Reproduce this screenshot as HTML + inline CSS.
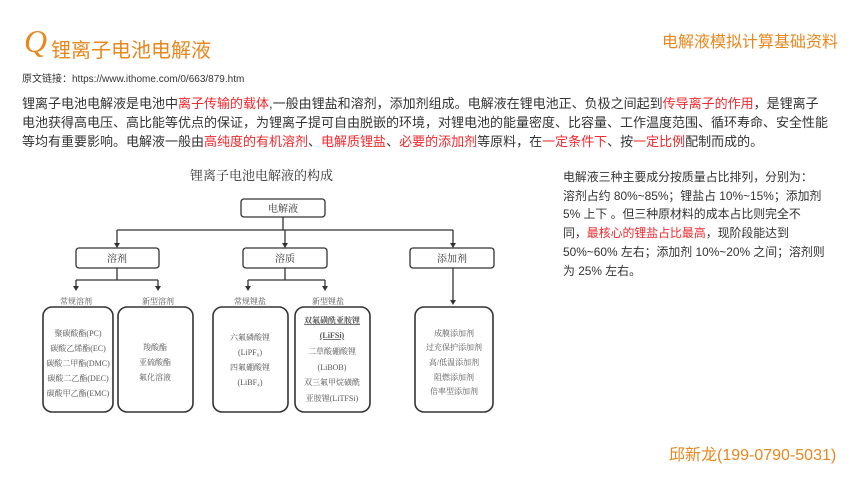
<!DOCTYPE html>
<html><head><meta charset="utf-8"><style>
body{margin:0;width:860px;height:484px;background:#fff;position:relative;overflow:hidden;font-family:"Liberation Sans","Noto Sans CJK SC",sans-serif;}
.a{position:absolute;white-space:nowrap;}
.r{color:#f0282d;}
.body{left:22px;top:94px;font-size:13px;line-height:19px;color:#333;}
.side{left:563px;top:168px;font-size:11.9px;line-height:18.7px;color:#333;}
</style></head><body>
<div class="a" style="left:24px;top:24px;font-family:'Liberation Serif',serif;font-style:italic;font-size:32px;color:#e8871e;line-height:34px;">Q</div>
<div class="a" style="left:51px;top:34px;font-size:20px;color:#e8871e;">锂离子电池电解液</div>
<div class="a" style="left:662px;top:28px;font-size:16px;color:#e8871e;">电解液模拟计算基础资料</div>
<div class="a" style="left:22px;top:70px;font-size:10px;color:#333;">原文链接：https://www.ithome.com/0/663/879.htm</div>
<div class="a body">锂离子电池电解液是电池中<span class="r">离子传输的载体</span>,一般由锂盐和溶剂，添加剂组成。电解液在锂电池正、负极之间起到<span class="r">传导离子的作用</span>，是锂离子<br>电池获得高电压、高比能等优点的保证，为锂离子提可自由脱嵌的环境，对锂电池的能量密度、比容量、工作温度范围、循环寿命、安全性能<br>等均有重要影响。电解液一般由<span class="r">高纯度的有机溶剂</span>、<span class="r">电解质锂盐</span>、<span class="r">必要的添加剂</span>等原料，在<span class="r">一定条件下</span>、按<span class="r">一定比例</span>配制而成的。</div>
<div class="a side">电解液三种主要成分按质量占比排列，分别为：<br>溶剂占约 80%~85%；锂盐占 10%~15%；添加剂<br>5% 上下 。但三种原材料的成本占比则完全不<br>同，<span class="r">最核心的锂盐占比最高</span>，现阶段能达到<br>50%~60% 左右；添加剂 10%~20% 之间；溶剂则<br>为 25% 左右。</div>
<div class="a" style="left:669px;top:441px;font-size:16px;color:#e8871e;">邱新龙(199-0790-5031)</div>
<svg class="a" style="left:0;top:0" width="860" height="484" font-family="Liberation Serif,Noto Serif CJK SC,serif" fill="#333">
<text x="190" y="180" font-size="13">锂离子电池电解液的构成</text>
<g fill="none" stroke="#333" stroke-width="1.3">
<rect x="241" y="199" width="84" height="18" rx="3"/>
<rect x="76" y="248" width="83" height="20" rx="3"/>
<rect x="243" y="248" width="84" height="20" rx="3"/>
<rect x="410" y="248" width="84" height="20" rx="3"/>
<path d="M283 217V230M117 230H453"/>
<path d="M117 230V243M285 230V243M453 230V243"/>
<path d="M117 268V280M76 280H158M76 280V286M158 280V286"/>
<path d="M285 268V280M248 280H325M248 280V286M325 280V286"/>
<path d="M453 268V300"/>
<g stroke-width="1.6">
<rect x="43" y="307" width="70" height="105" rx="9"/>
<rect x="118" y="307" width="75" height="105" rx="9"/>
<rect x="213" y="307" width="75" height="105" rx="9"/>
<rect x="295" y="307" width="75" height="105" rx="9"/>
<rect x="415" y="307" width="78" height="105" rx="9"/>
</g></g>
<g fill="#333"><path d="M114 243h6l-3 5z M282 243h6l-3 5z M450 243h6l-3 5z M73 286h6l-3 5z M155 286h6l-3 5z M245 286h6l-3 5z M322 286h6l-3 5z M450 300h6l-3 5z"/></g>
<g font-size="10" text-anchor="middle">
<text x="283" y="212">电解液</text>
<text x="117" y="262">溶剂</text><text x="285" y="262">溶质</text><text x="452" y="262">添加剂</text>
</g>
<g font-size="8" text-anchor="middle" fill="#555">
<text x="76" y="304">常规溶剂</text><text x="158" y="304">新型溶剂</text><text x="250" y="304">常规锂盐</text><text x="328" y="304">新型锂盐</text>
<text x="78" y="336">聚碳酸酯(PC)</text><text x="78" y="351">碳酸乙烯酯(EC)</text><text x="78" y="366">碳酸二甲酯(DMC)</text><text x="78" y="381">碳酸二乙酯(DEC)</text><text x="78" y="396">碳酸甲乙酯(EMC)</text>
<text x="155" y="350">羧酸酯</text><text x="155" y="365">亚硫酸酯</text><text x="155" y="380">氟化溶液</text>
<text x="250" y="340">六氟磷酸锂</text><text x="250" y="355">(LiPF₆)</text><text x="250" y="370">四氟硼酸锂</text><text x="250" y="385">(LiBF₄)</text>
<text x="332" y="323" font-weight="bold" text-decoration="underline">双氟磺酰亚胺锂</text><text x="332" y="338" font-weight="bold" text-decoration="underline">(LiFSi)</text><text x="332" y="354">二草酸硼酸锂</text><text x="332" y="370">(LiBOB)</text><text x="332" y="385">双三氟甲烷磺酰</text><text x="332" y="401">亚胺锂(LiTFSi)</text>
<text x="454" y="336">成膜添加剂</text><text x="454" y="350">过充保护添加剂</text><text x="454" y="365">高/低温添加剂</text><text x="454" y="380">阻燃添加剂</text><text x="454" y="394">倍率型添加剂</text>
</g>
</svg>
</body></html>
